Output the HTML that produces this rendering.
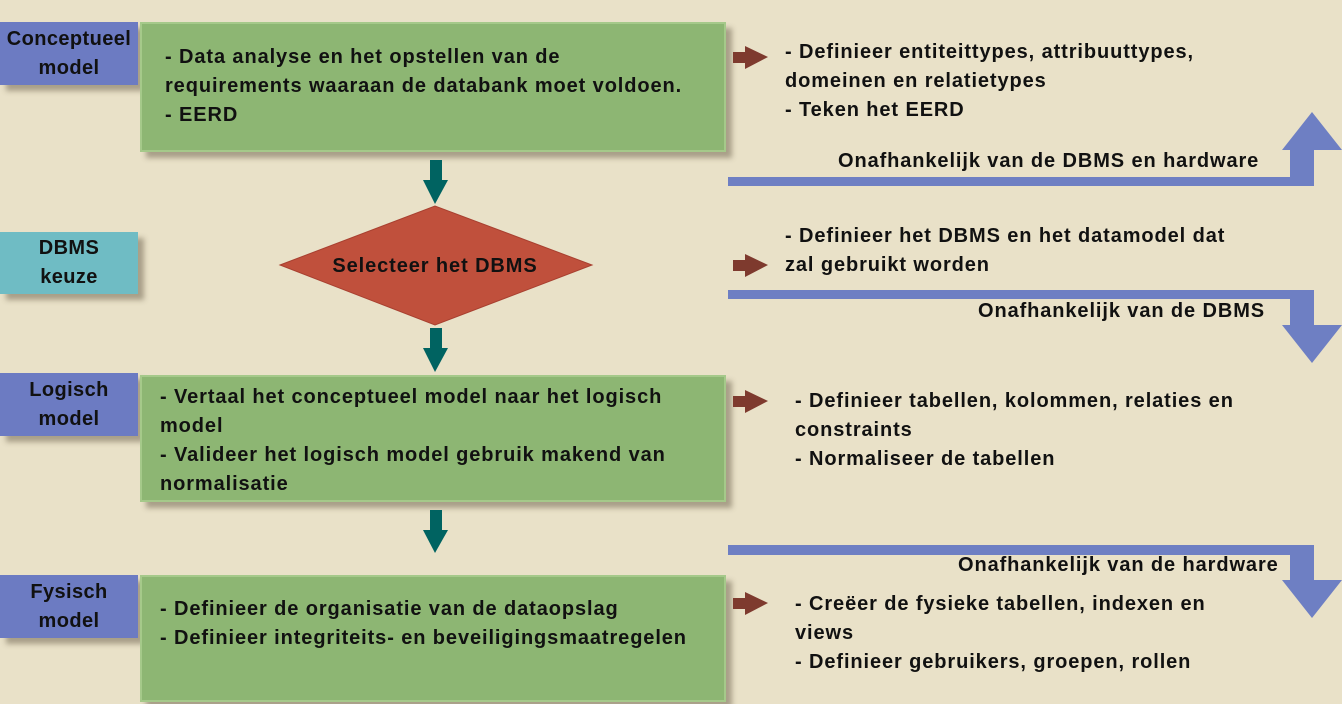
<!DOCTYPE html>
<html><head><meta charset="utf-8"><style>
body{margin:0;width:1342px;height:704px;background:#e9e1c8;position:relative;overflow:hidden;font-family:"Liberation Sans",sans-serif;font-weight:bold;color:#111}
.a{position:absolute}
.lbl{position:absolute;left:0;width:138px;text-align:center;font-size:20px;letter-spacing:0.4px;line-height:29px;box-shadow:6px 6px 5px rgba(90,80,60,.45);display:flex;align-items:center;justify-content:center}
.g{position:absolute;left:140px;width:586px;background:#8db673;border:2px solid #a5c98a;box-shadow:6px 6px 5px rgba(90,80,60,.45);box-sizing:border-box}
.t{position:absolute;font-size:20px;letter-spacing:0.9px;line-height:29px;white-space:nowrap}
</style></head><body>
<div class="lbl" style="top:22px;height:63px;background:#6c7bc2">Conceptueel<br>model</div>
<div class="lbl" style="top:232px;height:62px;background:#6fbcc4">DBMS<br>keuze</div>
<div class="lbl" style="top:373px;height:63px;background:#6c7bc2">Logisch<br>model</div>
<div class="lbl" style="top:575px;height:63px;background:#6c7bc2">Fysisch<br>model</div>
<div class="g" style="top:22px;height:130px"></div>
<div class="g" style="top:375px;height:127px"></div>
<div class="g" style="top:575px;height:127px"></div>
<div class="t" style="left:165px;top:43px">- Data analyse en het opstellen van de<br>requirements waaraan de databank moet voldoen.<br>- EERD</div>
<div class="t" style="left:160px;top:383px">- Vertaal het conceptueel model naar het logisch<br>model<br>- Valideer het logisch model gebruik makend van<br>normalisatie</div>
<div class="t" style="left:160px;top:595px">- Definieer de organisatie van de dataopslag<br>- Definieer integriteits- en beveiligingsmaatregelen</div>
<svg class="a" style="left:0;top:0" width="1342" height="704">
<g fill="#006361">
<rect x="430" y="160" width="12" height="22"/><polygon points="423,180 448,180 435,204"/>
<rect x="430" y="328" width="12" height="22"/><polygon points="423,348 448,348 435,372"/>
<rect x="430" y="510" width="12" height="22"/><polygon points="423,530 448,530 435,553"/>
</g>
<polygon points="280,265 435,206 592,265 435,325" fill="#c0503c" stroke="#a84030"/>
<g fill="#7e3a2e">
<rect x="733" y="52" width="14" height="11"/><polygon points="745,46 768,57 745,69"/>
<rect x="733" y="260" width="14" height="11"/><polygon points="745,254 768,265 745,277"/>
<rect x="733" y="396" width="14" height="11"/><polygon points="745,390 768,401 745,413"/>
<rect x="733" y="598" width="14" height="11"/><polygon points="745,592 768,603 745,615"/>
</g>
<g fill="#6e7fc3">
<rect x="728" y="177" width="586" height="9"/><rect x="1290" y="145" width="24" height="41"/><polygon points="1282,150 1342,150 1312,112"/>
<rect x="728" y="290" width="586" height="9"/><rect x="1290" y="290" width="24" height="40"/><polygon points="1282,325 1342,325 1312,363"/>
<rect x="728" y="545" width="586" height="10"/><rect x="1290" y="545" width="24" height="40"/><polygon points="1282,580 1342,580 1312,618"/>
</g>
<text x="435" y="272" text-anchor="middle" font-family="Liberation Sans" font-weight="bold" font-size="20" letter-spacing="0.9" fill="#111">Selecteer het DBMS</text>
</svg>
<div class="t" style="left:785px;top:38px">- Definieer entiteittypes, attribuuttypes,<br>domeinen en relatietypes<br>- Teken het EERD</div>
<div class="t" style="left:838px;top:147px">Onafhankelijk van de DBMS en hardware</div>
<div class="t" style="left:785px;top:222px">- Definieer het DBMS en het datamodel dat<br>zal gebruikt worden</div>
<div class="t" style="left:978px;top:297px">Onafhankelijk van de DBMS</div>
<div class="t" style="left:795px;top:387px">- Definieer tabellen, kolommen, relaties en<br>constraints<br>- Normaliseer de tabellen</div>
<div class="t" style="left:958px;top:551px">Onafhankelijk van de hardware</div>
<div class="t" style="left:795px;top:590px">- Creëer de fysieke tabellen, indexen en<br>views<br>- Definieer gebruikers, groepen, rollen</div>
</body></html>
